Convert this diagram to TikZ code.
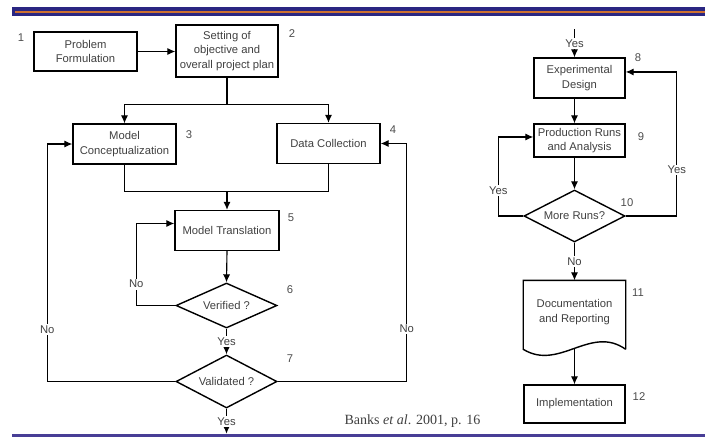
\documentclass[tikz,border=0pt]{standalone}
\usepackage{fontspec}
\setmainfont{Liberation Sans}
\newfontfamily\banksfont{Liberation Serif}
\usepackage{tikz}
\usepackage{xcolor}
\usetikzlibrary{arrows.meta,shapes.geometric}

\definecolor{bandblue}{RGB}{42,38,130}
\definecolor{bandorange}{RGB}{205,112,48}
\definecolor{rulepurple}{RGB}{72,62,150}

\begin{document}
\begin{tikzpicture}[x=0.025cm,y=-0.025cm,
        stepbox/.style={draw,line width=1pt,align=center,inner sep=1pt,
            font=\fontsize{8}{10.3}\selectfont,text=black!75,
            minimum width=2.55cm,minimum height=1cm},
        decision/.style={draw,diamond,aspect=2.6,line width=1pt,inner sep=0pt,
            font=\fontsize{8}{10.3}\selectfont,text=black!75,
            minimum width=2.525cm},
        num/.style={font=\fontsize{8}{10}\selectfont,text=black!70},
        lbl/.style={fill=white,inner sep=1pt,font=\fontsize{8}{10}\selectfont,text=black!75},
        arr/.style={line width=0.8pt,-{Latex[length=2mm,width=1.8mm]}},
        link/.style={line width=0.8pt}]
    \useasboundingbox (0,0) rectangle (705,437);
    % bands
    \fill[bandblue] (12,7) rectangle (705,16);
    \fill[bandorange] (15,10.5) rectangle (705,12.5);
    \fill[rulepurple] (12,433.5) rectangle (705,437);

    % left column
    \node[stepbox,minimum width=2.575cm,minimum height=0.975cm] (pf) at (85.5,51.5) {Problem\\Formulation};
    \node[stepbox,minimum height=1.3cm] (plan) at (227,51) {Setting of\\objective and\\overall project plan};
    \node[stepbox,minimum width=2.575cm] (concept) at (124.5,144) {Model\\Conceptualization};
    \node[stepbox,minimum width=2.575cm] (data) at (328.5,143.5) {Data Collection};
    \node[stepbox,minimum width=2.6cm] (trans) at (227,230.5) {Model Translation};
    \node[decision,minimum height=1.125cm] (verif) at (226.5,305.5) {Verified ?};
    \node[decision,minimum height=1.325cm] (valid) at (226.5,381.5) {Validated ?};

    % right column
    \node[stepbox,minimum width=2.275cm] (design) at (579.5,78) {Experimental\\Design};
    \node[stepbox,minimum width=2.275cm,minimum height=0.825cm] (runs) at (579.5,140.5) {Production Runs\\and Analysis};
    \node[decision,minimum height=1.3cm] (more) at (574.5,216) {More Runs?};
    \node[stepbox,draw=none,minimum width=2.525cm,minimum height=1.55cm] (doc) at (574.5,312) {Documentation\\and Reporting};
    \draw[line width=1pt] ([yshift=-4pt]doc.south east) -- (doc.north east) -- (doc.north west)
        -- ([yshift=-4pt]doc.south west) .. controls +(36,22) and +(-35,-25) .. ([yshift=-4pt]doc.south east);
    \node[stepbox,minimum width=2.525cm,minimum height=0.95cm] (impl) at (574.5,404) {Implementation};

    % step numbers
    \node[num] (n1) at (21,38) {1};
    \node[num] (n2) at (292,34) {2};
    \node[num] (n3) at (189,135) {3};
    \node[num] (n4) at (393,130) {4};
    \node[num] (n5) at (291,218) {5};
    \node[num] (n6) at (290,290) {6};
    \node[num] (n7) at (290,359) {7};
    \node[num] (n8) at (638,58) {8};
    \node[num] (n9) at (641,137) {9};
    \node[num] (n10) at (627,203) {10};
    \node[num] (n11) at (638,293) {11};
    \node[num] (n12) at (639,397) {12};

    % connectors, left
    \draw[arr] (pf.east) -- (pf.east -| plan.west);
    \draw[link] (plan.south) -- ++(0,27) coordinate (split);
    \draw[arr] (split) -| (concept.north);
    \draw[arr] (split) -| (data.north);
    \draw[link] (concept.south) -- ++(0,27) coordinate (join) -| (data.south);
    \draw[arr] (join -| trans.north) -- (trans.north);
    \draw[arr] (trans.south) -- (verif.north);
    \draw[arr] (verif.west) -- ++(-39,0) |- node[lbl,pos=0.13]{No} ([yshift=5pt]trans.west);
    \draw[arr] (verif.south) -- node[lbl]{Yes} (valid.north);
    \draw[arr] (valid.west) -- ++(-128,0) |- node[lbl,pos=0.11]{No} (concept.west);
    \draw[arr] (valid.east) -- ++(129,0) |- node[lbl,pos=0.11]{No} (data.east);
    \draw[arr] (valid.south) -- node[lbl,pos=0.52]{Yes} ++(0,25);

    % connectors, right
    \draw[arr] (design.north -| more.north) ++(0,-28) -- node[lbl]{Yes} (design.north -| more.north);
    \draw[arr] (design.south -| more.north) -- (runs.north -| more.north);
    \draw[arr] (runs.south -| more.north) -- (more.north);
    \draw[arr] (more.west) -- ++(-25,0) |- node[lbl,pos=0.16]{Yes} ([yshift=2.5pt]runs.west);
    \draw[arr] (more.east) -- ++(51,0) |- node[lbl,pos=0.16]{Yes} ([yshift=4.3pt]design.east);
    \draw[arr] (more.south) -- node[lbl]{No} (doc.north);
    \draw[arr] ([yshift=-4pt]doc.south) -- (impl.north);

    \node[font=\banksfont\fontsize{10}{12}\selectfont,text=black!75] (src) at (412.5,421) {Banks \textit{et al}. 2001, p. 16};
\end{tikzpicture}
\end{document}
